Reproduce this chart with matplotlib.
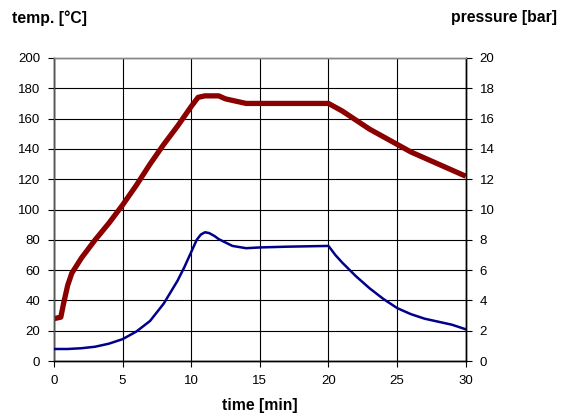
import matplotlib.pyplot as plt
import numpy as np

plt.rcParams['font.family'] = ['Liberation Sans', 'DejaVu Sans']

# temperature curve (left axis)
t_temp = [0, 0.5, 0.7, 1.0, 1.3, 2.0, 3.0, 4.0, 5.0, 6.0, 7.0, 8.0, 9.0, 10.0,
          10.5, 11.0, 12.0, 12.5, 13.0, 13.5, 14.0, 16.0, 18.0, 20.0, 21.0,
          22.0, 23.0, 24.0, 25.0, 26.0, 27.0, 28.0, 29.0, 30.0]
temp = [28, 29, 38, 50, 58, 68, 80, 91, 103, 116, 130, 143, 155, 168,
        174, 175, 175, 173, 172, 171, 170, 170, 170, 170, 165,
        159, 153, 148, 143, 138, 134, 130, 126, 122]

# pressure curve (right axis)
t_pres = [0, 1, 2, 3, 4, 5, 6, 7, 8, 9, 9.5, 10, 10.4, 10.7, 11, 11.3, 11.7,
          12, 13, 14, 15, 17, 20, 20.5, 21, 22, 23, 24, 25, 26, 27, 28, 29, 30]
pres = [0.8, 0.8, 0.85, 0.95, 1.15, 1.45, 1.95, 2.65, 3.8, 5.3, 6.2, 7.2, 8.0,
        8.35, 8.5, 8.45, 8.25, 8.05, 7.6, 7.45, 7.5, 7.55, 7.6, 7.0, 6.5, 5.6,
        4.8, 4.1, 3.5, 3.1, 2.8, 2.6, 2.4, 2.1]

fig = plt.figure(figsize=(5.68, 4.17), dpi=100)
ax1 = fig.add_axes([0.095, 0.134, 0.725, 0.727])
ax2 = ax1.twinx()

ax1.plot(t_temp, temp, '-', color='#8b0000', linewidth=3.8, solid_capstyle='butt', zorder=3)
ax2.plot(t_pres, pres, '-', color='#00008b', linewidth=1.8, zorder=3)

ax1.set_xlim(0, 30)
ax1.set_ylim(0, 200)
ax2.set_ylim(0, 20)
ax1.set_xticks(np.arange(0, 31, 5))
ax1.set_yticks(np.arange(0, 201, 20))
ax2.set_yticks(np.arange(0, 21, 2))

ax1.grid(True, color='black', linewidth=0.8)
ax1.set_axisbelow(True)
for ax in (ax1, ax2):
    ax.tick_params(labelsize=9.5, length=4, width=0.8, pad=6, direction='out', color='black')
    for s in ax.spines.values():
        s.set_linewidth(1.0)
    ax.spines['top'].set_color('#888888')
ax2.spines['left'].set_color('#555555')

fig.text(0.022, 0.975, 'temp. [°C]', fontsize=11.3, fontweight='bold', va='top')
fig.text(0.981, 0.975, 'pressure [bar]', fontsize=11.3, fontweight='bold', va='top', ha='right')
ax1.set_xlabel('time [min]', fontsize=11.3, fontweight='bold', labelpad=8)

fig.savefig('out.png', dpi=100)
